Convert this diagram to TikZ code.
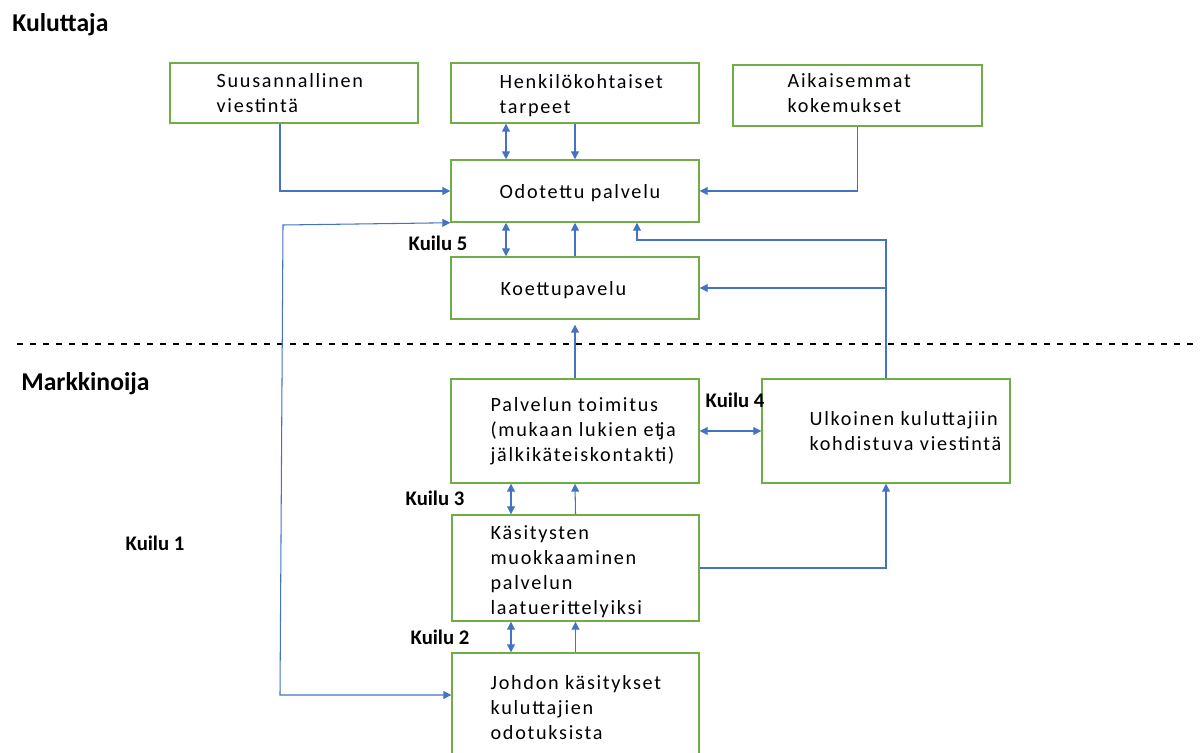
\documentclass[tikz,border=0pt]{standalone}
\usepackage{fontspec}
\setmainfont{Carlito}
\newfontfamily\boxfont[LetterSpace=8.5]{Carlito}
\usetikzlibrary{arrows.meta,positioning,calc}
\definecolor{frame}{HTML}{70AD47}
\definecolor{link}{HTML}{4472C4}

\begin{document}
\begin{tikzpicture}[x=0.02cm,y=-0.02cm,
  box/.style={draw=frame,line width=0.85pt,inner sep=0},
  txt/.style={font=\boxfont\fontsize{11.5}{14.2}\selectfont,align=left,inner sep=0,anchor=west},
  gap/.style={font=\bfseries\fontsize{11.8}{14}\selectfont,inner sep=0},
  side/.style={font=\bfseries\fontsize{14.6}{17}\selectfont,inner sep=0,anchor=west},
  arr/.style={draw=link,line width=0.6pt,-{Triangle[length=4.5pt,width=4.5pt]}},
  both/.style={arr,{Triangle[length=4.5pt,width=4.5pt]}-{Triangle[length=4.5pt,width=4.5pt]}}]
  \useasboundingbox (0,0) rectangle (1200,753);
  \clip (0,0) rectangle (1200,753);

  % kuluttaja side
  \node[box,minimum width=4.96cm,minimum height=1.2cm] (sana) at (294,93) {};
  \node[box,minimum width=4.96cm,minimum height=1.2cm] (tarpeet) at (575,93) {};
  \node[box,minimum width=4.98cm,minimum height=1.22cm] (aiemmat) at (857.5,95.5) {};
  \node[box,minimum width=4.96cm,minimum height=1.24cm] (odotettu) at (575,191) {};
  \node[box,minimum width=4.96cm,minimum height=1.24cm] (koettu) at (575,288) {};
  \node[txt] (sanat) at ($(sana.west)+(47,0)$) {Suusannallinen\\viestintä};
  \node[txt] (tarpeett) at ($(tarpeet.west)+(49,2.5)$) {Henkilökohtaiset\\tarpeet};
  \node[txt] (aiemmatt) at ($(aiemmat.west)+(55,-2.5)$) {Aikaisemmat\\kokemukset};
  \node[txt] (odotettut) at ($(odotettu.west)+(49,2)$) {Odotettu palvelu};
  \node[txt] (koettut) at ($(koettu.west)+(50,2)$) {Koettupavelu};

  % markkinoija side
  \node[box,minimum width=4.96cm,minimum height=2.08cm] (toimitus) at (575,431) {};
  \node[box,minimum width=4.96cm,minimum height=2.08cm] (viestinta) at (886,431) {};
  \node[box,minimum width=4.94cm,minimum height=2.12cm] (muokkaus) at (575.5,568) {};
  \node[box,minimum width=4.94cm,minimum height=2.16cm] (johto) at (575.5,707) {};
  \node[txt] (toimitust) at ($(toimitus.west)+(40,0)$)
    {Palvelun toimitus\\(mukaan lukien et\hspace{-0.12em}ja\\jälkikäteiskontakti)};
  \node[txt] (viestintat) at ($(viestinta.west)+(48,0)$)
    {Ulkoinen kuluttajiin\\kohdistuva viestintä};
  \node[txt] (muokkaust) at ($(muokkaus.west)+(39,4)$)
    {Käsitysten\\muokkaaminen\\palvelun\\laatuerittelyiksi};
  \node[txt] (johtot) at ($(johto.west)+(39,1)$)
    {Johdon käsitykset\\kuluttajien\\odotuksista};

  % headings and gaps
  \node[side] (kuluttaja) at (12,25) {Kuluttaja};
  \node[side] (markkinoija) at (21,384) {Markkinoija};
  \draw[line width=1pt,dash pattern=on 3.4pt off 4pt] (17,344) -- (1200,344);
  \node[gap] (kuilu5) at (438,243) {Kuilu 5};
  \node[gap] (kuilu4) at (735,400) {Kuilu 4};
  \node[gap] (kuilu3) at (435,498) {Kuilu 3};
  \node[gap] (kuilu2) at (440,637) {Kuilu 2};
  \node[gap] (kuilu1) at (155,543) {Kuilu 1};

  % lanes
  \coordinate (lanea) at (280,0);
  \coordinate (upper) at (506,0);
  \coordinate (lower) at (511,0);
  \coordinate (kink) at (637,240);
  \coordinate (k1top) at (283,225);
  \coordinate (k1bot) at (280,695);

  \draw[arr] (sana.south -| lanea) |- (odotettu.west);
  \draw[arr] (aiemmat.south) |- (odotettu.east);
  \draw[both] (tarpeet.south -| upper) -- (odotettu.north -| upper);
  \draw[arr] (tarpeet.south) -- (odotettu.north);
  \draw[both] (odotettu.south -| upper) -- (koettu.north -| upper);
  \draw[arr] (koettu.north) -- (odotettu.south);
  \draw[arr] (viestinta.north) |- (kink) -- (odotettu.south -| kink);
  \draw[arr] (viestinta.north |- koettu.east) -- (koettu.east);
  \draw[arr,shorten >=2.8pt] (toimitus.north) -- (koettu.south);
  \draw[both] (toimitus.east) -- (viestinta.west);
  \draw[both] (toimitus.south -| lower) -- (muokkaus.north -| lower);
  \draw[arr] (muokkaus.north) -- (toimitus.south);
  \draw[arr] (muokkaus.east) -| (viestinta.south);
  \draw[both] (muokkaus.south -| lower) -- (johto.north -| lower);
  \draw[arr] (johto.north) -- (muokkaus.south);
  \draw[both] (k1bot -| johto.west) -- (k1bot) -- (k1top) -- (odotettu.south west);
\end{tikzpicture}
\end{document}
